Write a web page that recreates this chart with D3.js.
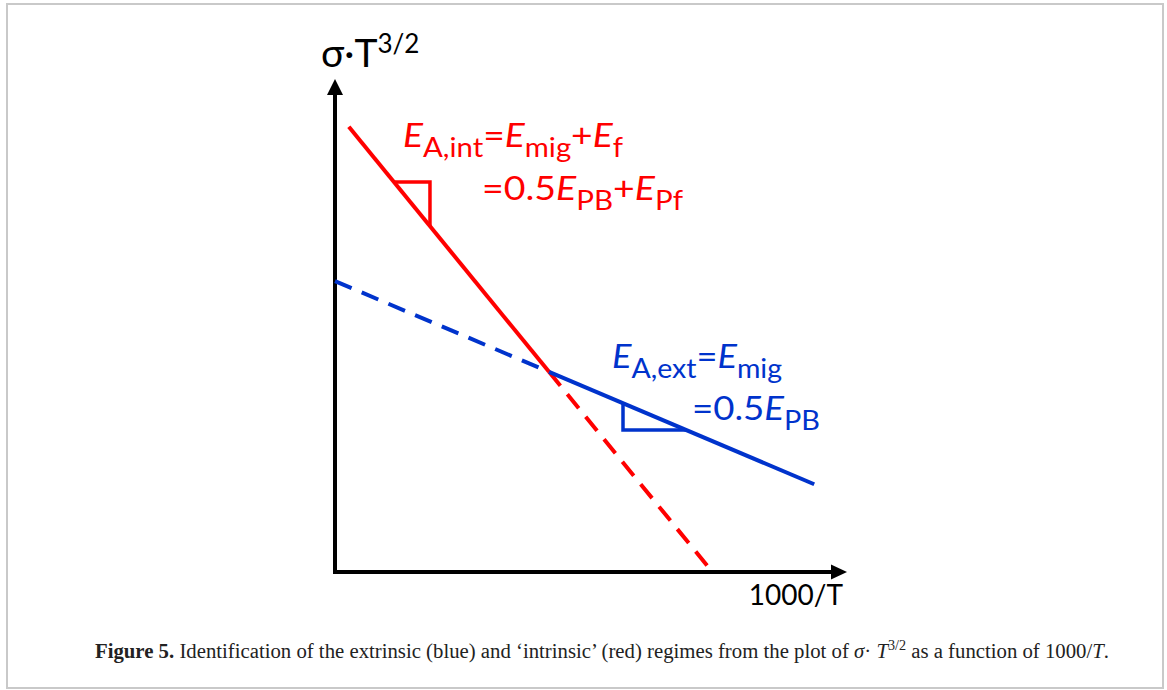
<!DOCTYPE html>
<html>
<head>
<meta charset="utf-8">
<script src="https://cdn.jsdelivr.net/npm/d3@7"></script>
<style>
	body { margin: 0; background: #fff; }
	svg { display: block; }
</style>
</head>
<body>
<svg width="1167" height="690"></svg>
<script>
// end points of the lines, in (1000/T , sigma*T^3/2) units (arbitrary, no ticks)
var intrinsicSolid  = [[0.27, 9.03], [4.18, 4.06]];
var intrinsicDashed = [[4.18, 4.06], [7.37, 0.00]];
var extrinsicDashed = [[0.00, 5.90], [4.18, 4.06]];
var extrinsicSolid  = [[4.18, 4.06], [9.36, 1.78]];

// little slope triangles
var intrinsicSlope = [[1.15, 7.91], [1.855, 7.91], [1.855, 7.01]];
var extrinsicSlope = [[5.625, 3.42], [5.625, 2.88], [6.86, 2.88]];

var xDomain = [0, 10];
var yDomain = [0, 10];

var xLabel = "1000/T";
var yLabel = ["σ·T", "3/2"];

// equation pieces: text, italic, subscript
var intLine1 = [["E", 1, 0], ["A,int", 0, 1], ["=", 0, 0], ["E", 1, 0], ["mig", 0, 1], ["+", 0, 0], ["E", 1, 0], ["f", 0, 1]];
var intLine2 = [["=0.5", 0, 0], ["E", 1, 0], ["PB", 0, 1], ["+", 0, 0], ["E", 1, 0], ["Pf", 0, 1]];
var extLine1 = [["E", 1, 0], ["A,ext", 0, 1], ["=", 0, 0], ["E", 1, 0], ["mig", 0, 1]];
var extLine2 = [["=0.5", 0, 0], ["E", 1, 0], ["PB", 0, 1]];

var RED = "#ff0000";
var BLUE = "#0033cc";

var svg = d3.select('svg');

//frame round the figure
svg.append('rect')
	.attr('x', 7).attr('y', 4)
	.attr('width', 1156).attr('height', 684)
	.attr('fill', 'none')
	.attr('stroke', '#c9c9c9')
	.attr('stroke-width', 2);

var x = d3.scaleLinear().domain(xDomain).range([335, 847]);
var y = d3.scaleLinear().domain(yDomain).range([572, 79]);

var line = d3.line()
	.x(function(d){ return x(d[0]); })
	.y(function(d){ return y(d[1]); });

// axes (no ticks, just arrows)
var ax = svg.append('g');
ax.append('line')
	.attr('x1', x(0) - 2).attr('x2', x(xDomain[1]) - 14)
	.attr('y1', y(0)).attr('y2', y(0))
	.attr('stroke', '#000').attr('stroke-width', 4);
ax.append('line')
	.attr('x1', x(0)).attr('x2', x(0))
	.attr('y1', y(0) + 2).attr('y2', y(yDomain[1]) + 14)
	.attr('stroke', '#000').attr('stroke-width', 4);
ax.append('path')
	.attr('d', 'M' + x(xDomain[1]) + ',' + y(0) + 'l-16,-7.5v15z')
	.attr('fill', '#000');
ax.append('path')
	.attr('d', 'M' + x(0) + ',' + y(yDomain[1]) + 'l-8,16h16z')
	.attr('fill', '#000');

function drawLine(data, color, dashed){
	svg.append('path')
		.datum(data)
		.attr('d', line)
		.attr('fill', 'none')
		.attr('stroke', color)
		.attr('stroke-width', 4)
		.attr('stroke-dasharray', dashed ? '18,11' : null);
}

drawLine(extrinsicDashed, BLUE, true);
drawLine(intrinsicDashed, RED, true);
drawLine(intrinsicSolid, RED, false);
drawLine(extrinsicSolid, BLUE, false);

svg.append('path').datum(intrinsicSlope).attr('d', line)
	.attr('fill', 'none').attr('stroke', RED).attr('stroke-width', 3.5);
svg.append('path').datum(extrinsicSlope).attr('d', line)
	.attr('fill', 'none').attr('stroke', BLUE).attr('stroke-width', 3.5);

//writes a line of the equation with italic E and subscripts
function equation(parts, px, py, color, len){
	var t = svg.append('text')
		.attr('x', px).attr('y', py)
		.attr('fill', color)
		.style('font-family', 'Lato, "Open Sans", sans-serif')
		.style('font-size', '33px');
	var down = false;
	parts.forEach(function(p){
		var s = t.append('tspan').text(p[0]);
		if (p[1]) s.style('font-style', 'italic');
		if (p[2]) {
			s.style('font-size', '26px');
			if (!down) { s.attr('dy', 10); down = true; }
		} else if (down) {
			s.attr('dy', -10); down = false;
		}
	});
	//the original lettering is a bit wider than Lato, so stretch it to fit
	if (len) t.attr('textLength', len).attr('lengthAdjust', 'spacingAndGlyphs');
	return t;
}

equation(intLine1, 403, 147, RED, 220);
equation(intLine2, 482, 200, RED, 201);
equation(extLine1, 612, 368, BLUE, 170);
equation(extLine2, 692, 420, BLUE, 128);

// axis labels
var yl = svg.append('text')
	.attr('x', 321).attr('y', 67)
	.style('font-family', 'Lato, "Open Sans", sans-serif')
	.style('font-size', '39px');
yl.append('tspan').text(yLabel[0]);
yl.append('tspan').attr('dy', -14).style('font-size', '26px').text(yLabel[1]);

svg.append('text')
	.attr('x', 843).attr('y', 605)
	.attr('text-anchor', 'end')
	.style('font-family', 'Lato, "Open Sans", sans-serif')
	.style('font-size', '28px')
	.text(xLabel);

// caption
var cap = svg.append('text')
	.attr('x', 95).attr('y', 658)
	.attr('fill', '#222')
	.style('font-family', '"Liberation Serif", "DejaVu Serif", serif')
	.style('font-size', '20.5px');
cap.append('tspan').style('font-weight', 'bold').text('Figure 5.');
cap.append('tspan').text(' Identification of the extrinsic (blue) and ‘intrinsic’ (red) regimes from the plot of ');
cap.append('tspan').style('font-style', 'italic').text('σ');
cap.append('tspan').text('· ');
cap.append('tspan').style('font-style', 'italic').text('T');
cap.append('tspan').attr('dy', -8).style('font-size', '14px').text('3/2');
cap.append('tspan').attr('dy', 8).text(' as a function of 1000/');
cap.append('tspan').style('font-style', 'italic').text('T');
cap.append('tspan').text('.');
cap.attr('textLength', 1014).attr('lengthAdjust', 'spacingAndGlyphs');
</script>
</body>
</html>
